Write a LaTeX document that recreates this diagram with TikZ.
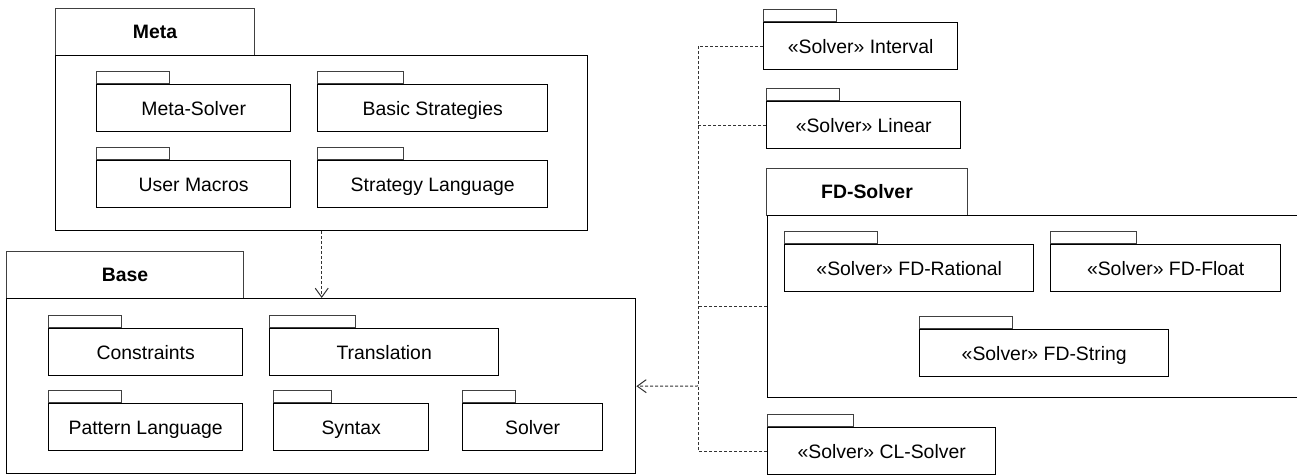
\documentclass[tikz,border=0pt]{standalone}
\usepackage{fontspec}
\setmainfont{Liberation Sans}
\usetikzlibrary{arrows.meta}

\tikzset{
    pkg/.style={draw, line width=0.7pt, anchor=north west, inner sep=0pt, minimum height=23.5pt, text height=7pt, text depth=0pt},
    tab/.style={draw=black!75, line width=0.5pt},
    head/.style={draw=black!75, line width=0.5pt, anchor=north west, inner sep=0pt, minimum height=23.5pt, text height=7pt, text depth=0pt, font=\fontsize{9.7}{11.6}\selectfont\bfseries},
    dep/.style={draw=black!80, line width=0.5pt, dash pattern=on 1.5pt off 1pt},
    imports/.style={dep, -{Straight Barb[length=4.5pt, width=6.5pt]}}
}

\begin{document}
\begin{tikzpicture}[x=0.5pt, y=-0.5pt, font=\fontsize{9.7}{11.6}\selectfont]
    \useasboundingbox (0,0) rectangle (1297,475);
    \clip (0,0) rectangle (1297,475);

    % Meta package
    \node[head, minimum width=99.5pt] (metatab) at (55,8) {Meta};
    \node[pkg, minimum width=266pt, minimum height=87.5pt] (meta) at (55,55) {};
    \node[pkg, minimum width=97pt] (msolver) at (96,84) {Meta-Solver};
    \draw[tab] (msolver.north west) rectangle ++(73,-12);
    \node[pkg, minimum width=115pt] (basic) at (317,84) {Basic Strategies};
    \draw[tab] (basic.north west) rectangle ++(86,-12);
    \node[pkg, minimum width=97pt] (macros) at (96,160) {User Macros};
    \draw[tab] (macros.north west) rectangle ++(73,-12);
    \node[pkg, minimum width=115pt] (stratlang) at (317,160) {Strategy Language};
    \draw[tab] (stratlang.north west) rectangle ++(86,-12);

    % Base package
    \node[head, minimum width=118.5pt] (basetab) at (6,251) {Base};
    \node[pkg, minimum width=314.5pt, minimum height=87.5pt] (base) at (6,298) {};
    \node[pkg, minimum width=97pt] (constr) at (48,328) {Constraints};
    \draw[tab] (constr.north west) rectangle ++(73,-12);
    \node[pkg, minimum width=114.5pt] (transl) at (269,328) {Translation};
    \draw[tab] (transl.north west) rectangle ++(86,-12);
    \node[pkg, minimum width=97pt] (pattern) at (48,403) {Pattern Language};
    \draw[tab] (pattern.north west) rectangle ++(73,-12);
    \node[pkg, minimum width=77.5pt] (syntax) at (273,403) {Syntax};
    \draw[tab] (syntax.north west) rectangle ++(58,-12);
    \node[pkg, minimum width=70pt] (bsolver) at (462,403) {Solver};
    \draw[tab] (bsolver.north west) rectangle ++(53,-12);

    % Solver packages
    \node[pkg, minimum width=97pt] (interval) at (763,22) {«Solver» Interval};
    \draw[tab] (interval.north west) rectangle ++(73,-12);
    \node[pkg, minimum width=97pt] (linear) at (766,101) {«Solver» Linear};
    \draw[tab] (linear.north west) rectangle ++(73,-12);

    % FD-Solver package
    \node[head, minimum width=100.5pt] (fdtab) at (766,168) {FD-Solver};
    \node[pkg, minimum width=272pt, minimum height=91pt] (fd) at (767,215) {};
    \node[pkg, minimum width=124.5pt] (fdrat) at (784,244) {«Solver» FD-Rational};
    \draw[tab] (fdrat.north west) rectangle ++(93,-12);
    \node[pkg, minimum width=115pt] (fdfloat) at (1050,244) {«Solver» FD-Float};
    \draw[tab] (fdfloat.north west) rectangle ++(86,-12);
    \node[pkg, minimum width=124.5pt] (fdstr) at (919,329) {«Solver» FD-String};
    \draw[tab] (fdstr.north west) rectangle ++(93,-12);

    \node[pkg, minimum width=114pt] (cl) at (767,427) {«Solver» CL-Solver};
    \draw[tab] (cl.north west) rectangle ++(86,-12);

    % Dependencies
    \coordinate (hub) at (698,386);
    \draw[imports] (meta.south) -- (meta.south |- base.north);
    \draw[dep] (interval.west) -| (hub);
    \draw[dep] (linear.west) -- (linear.west -| hub);
    \draw[dep] (fd.west) -- (fd.west -| hub);
    \draw[dep] (cl.west) -| (hub);
    \draw[imports] (hub) -- (base.east);
\end{tikzpicture}
\end{document}
